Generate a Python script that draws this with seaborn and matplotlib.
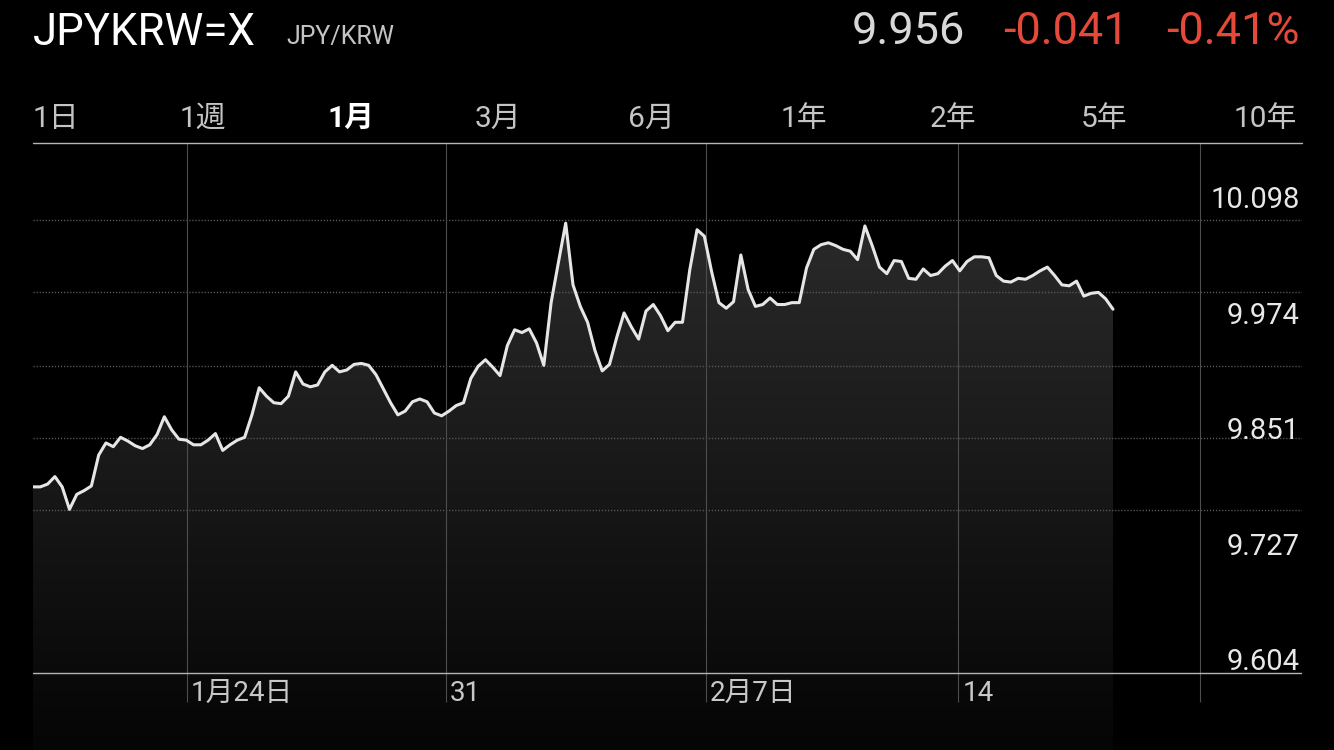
import numpy as np
import pandas as pd
import matplotlib
matplotlib.use("Agg")
import matplotlib.pyplot as plt
import seaborn as sns
from matplotlib.patches import Polygon
from matplotlib.colors import LinearSegmentedColormap
from matplotlib.transforms import ScaledTranslation

# ---------------- data ----------------
symbol = "JPYKRW=X"
pair_name = "JPY/KRW"
last_price = "9.956"
change_abs = "-0.041"
change_pct = "-0.41%"
ranges = ["1日", "1週", "1月", "3月", "6月", "1年", "2年", "5年", "10年"]
selected_range = "1月"

rates = [
    9.803, 9.803, 9.806, 9.814, 9.803, 9.779, 9.795, 9.799, 9.804, 9.837,
    9.850, 9.846, 9.856, 9.852, 9.847, 9.844, 9.848, 9.859, 9.878, 9.864,
    9.854, 9.853, 9.848, 9.848, 9.853, 9.860, 9.842, 9.848, 9.853, 9.856,
    9.880, 9.909, 9.900, 9.893, 9.892, 9.900, 9.926, 9.913, 9.910, 9.912,
    9.926, 9.933, 9.926, 9.928, 9.934, 9.935, 9.933, 9.923, 9.908, 9.893,
    9.880, 9.884, 9.894, 9.897, 9.894, 9.882, 9.879, 9.884, 9.890, 9.893,
    9.919, 9.932, 9.939, 9.931, 9.922, 9.954, 9.971, 9.968, 9.972, 9.957,
    9.933, 10.000, 10.043, 10.085, 10.019, 9.996, 9.979, 9.949, 9.927, 9.934,
    9.963, 9.989, 9.974, 9.961, 9.991, 9.998, 9.986, 9.970, 9.979, 9.979,
    10.035, 10.078, 10.071, 10.033, 10.000, 9.994, 10.001, 10.051, 10.014, 9.996,
    9.998, 10.005, 9.998, 9.998, 10.000, 10.000, 10.037, 10.057, 10.062, 10.064,
    10.061, 10.057, 10.055, 10.046, 10.082, 10.061, 10.038, 10.031, 10.045, 10.044,
    10.026, 10.025, 10.036, 10.029, 10.031, 10.039, 10.045, 10.034, 10.044, 10.049,
    10.049, 10.048, 10.029, 10.023, 10.022, 10.026, 10.025, 10.029, 10.034, 10.038,
    10.029, 10.019, 10.018, 10.023, 10.007, 10.010, 10.011, 10.004, 9.993,
]
date_tick_pos = [21.1, 56.6, 92.2, 126.8, 159.9]
date_tick_labels = ["1月24日", "31", "2月7日", "14", ""]
price_ticks = [10.098, 9.974, 9.851, 9.727, 9.604]
price_tick_labels = ["10.098", "9.974", "9.851", "9.727", "9.604"]

df = pd.DataFrame({"idx": np.arange(len(rates)), "rate": rates})

# ---------------- style ----------------
sns.set_theme(style="dark", rc={
    "figure.facecolor": "black", "axes.facecolor": "black",
    "savefig.facecolor": "black",
})
FAM = ["Roboto", "Noto Sans CJK JP", "DejaVu Sans"]
plt.rcParams["font.family"] = FAM

W, H = 1334, 750
fig = plt.figure(figsize=(W / 100, H / 100), dpi=100)
# plot frame: top line at y=143px, price baseline at y=673px; the axes
# itself runs to the bottom of the image so the fill can continue below.
px_left, px_right, px_top, px_base = 33, 1302, 143, 673
ax = fig.add_axes([px_left / W, 0.0, (px_right - px_left) / W, (H - px_top) / H])
ax.set_facecolor("black")

y0, ytop = 9.604, 10.1707                 # values at the baseline and top line
px_per_val = (px_base - px_top) / (ytop - y0)
ybot = y0 - (H - px_base) / px_per_val     # value at image bottom
ax.set_ylim(ybot, ytop)
xmax = (px_right - px_left) / 7.2973
ax.set_xlim(0, xmax)


def val_at_px(py):
    return y0 + (px_base - py) / px_per_val


# gradient fill under the line
n = len(rates)
verts = [(0, ybot)] + list(zip(df["idx"], df["rate"])) + [(n - 1, ybot)]
poly = Polygon(verts, closed=True, facecolor="none", edgecolor="none")
ax.add_patch(poly)
cmap = LinearSegmentedColormap.from_list("g", ["#050505", "#2b2b2b"])
grad = np.linspace(0, 1, 256).reshape(-1, 1)
im = ax.imshow(grad, cmap=cmap, origin="lower", aspect="auto",
               extent=[0, n - 1, ybot, 10.10], zorder=1,
               interpolation="bicubic")
im.set_clip_path(poly)
ax.set_xlim(0, xmax)
ax.set_ylim(ybot, ytop)

# dotted horizontal grid
for py in [220, 292, 366, 438, 510]:
    ax.axhline(val_at_px(py), color="#5a5a5a", lw=1.0,
               linestyle=(0, (0.9, 1.3)), zorder=2)

# solid baseline and top line
ax.axhline(y0, color="#b5b5b5", lw=1.0, zorder=3)
ax.axhline(ytop, color="#b5b5b5", lw=1.0, zorder=3, clip_on=False)

# vertical date lines
ax.vlines(date_tick_pos, val_at_px(702), ytop, color="#4d4d4d", lw=0.8, zorder=2)

# the price line
sns.lineplot(data=df, x="idx", y="rate", ax=ax, color="#e6e6e6",
             linewidth=2.2, zorder=5)
ax.set_xlabel("")
ax.set_ylabel("")
ax.set_xticks([])
ax.set_yticks([])
for s in ax.spines.values():
    s.set_visible(False)
ax.grid(False)

# price labels (right side, just above their level)
ytr = ax.get_yaxis_transform() + ScaledTranslation(0, 2.5 / 100, fig.dpi_scale_trans)
for v, lab in zip(price_ticks, price_tick_labels):
    ax.text((1300 - px_left) / (px_right - px_left), v, lab, transform=ytr,
            ha="right", va="baseline", fontsize=21, color="#e8e8e8",
            family=FAM, zorder=6)

# date labels
xtr = ax.transData + ScaledTranslation(4 / 100, 0, fig.dpi_scale_trans)
for p, lab in zip(date_tick_pos, date_tick_labels):
    if lab:
        ax.text(p, val_at_px(693.5), lab, transform=xtr,
                ha="left", va="center", fontsize=20, color="#c8c8c8",
                family=FAM)

# ---------------- header ----------------
def fy(py):
    return 1 - py / H

fig.text(33 / W, fy(45), symbol, fontsize=31.5, color="white", va="baseline",
         ha="left", family=FAM)
fig.text(286 / W, fy(44), pair_name, fontsize=18, color="#c4c4c4",
         va="baseline", ha="left", family=FAM)
fig.text(965 / W, fy(44), last_price, fontsize=32.5, color="#d8d8d8",
         va="baseline", ha="right", family=FAM)
fig.text(1129 / W, fy(44), change_abs, fontsize=32.5, color="#e5493a",
         va="baseline", ha="right", family=FAM)
fig.text(1300 / W, fy(44), change_pct, fontsize=32.5, color="#e5493a",
         va="baseline", ha="right", family=FAM)

tab_x = [33, 180, 327, 475, 628, 781, 930, 1081, 1234]
for x, lab in zip(tab_x, ranges):
    sel = lab == selected_range
    fig.text(x / W, fy(119), lab, fontsize=21.5,
             color="white" if sel else "#c4c4c4",
             fontweight="bold" if sel else "normal",
             va="center", ha="left", family=FAM)

fig.savefig("out.png", dpi=100, facecolor="black")
